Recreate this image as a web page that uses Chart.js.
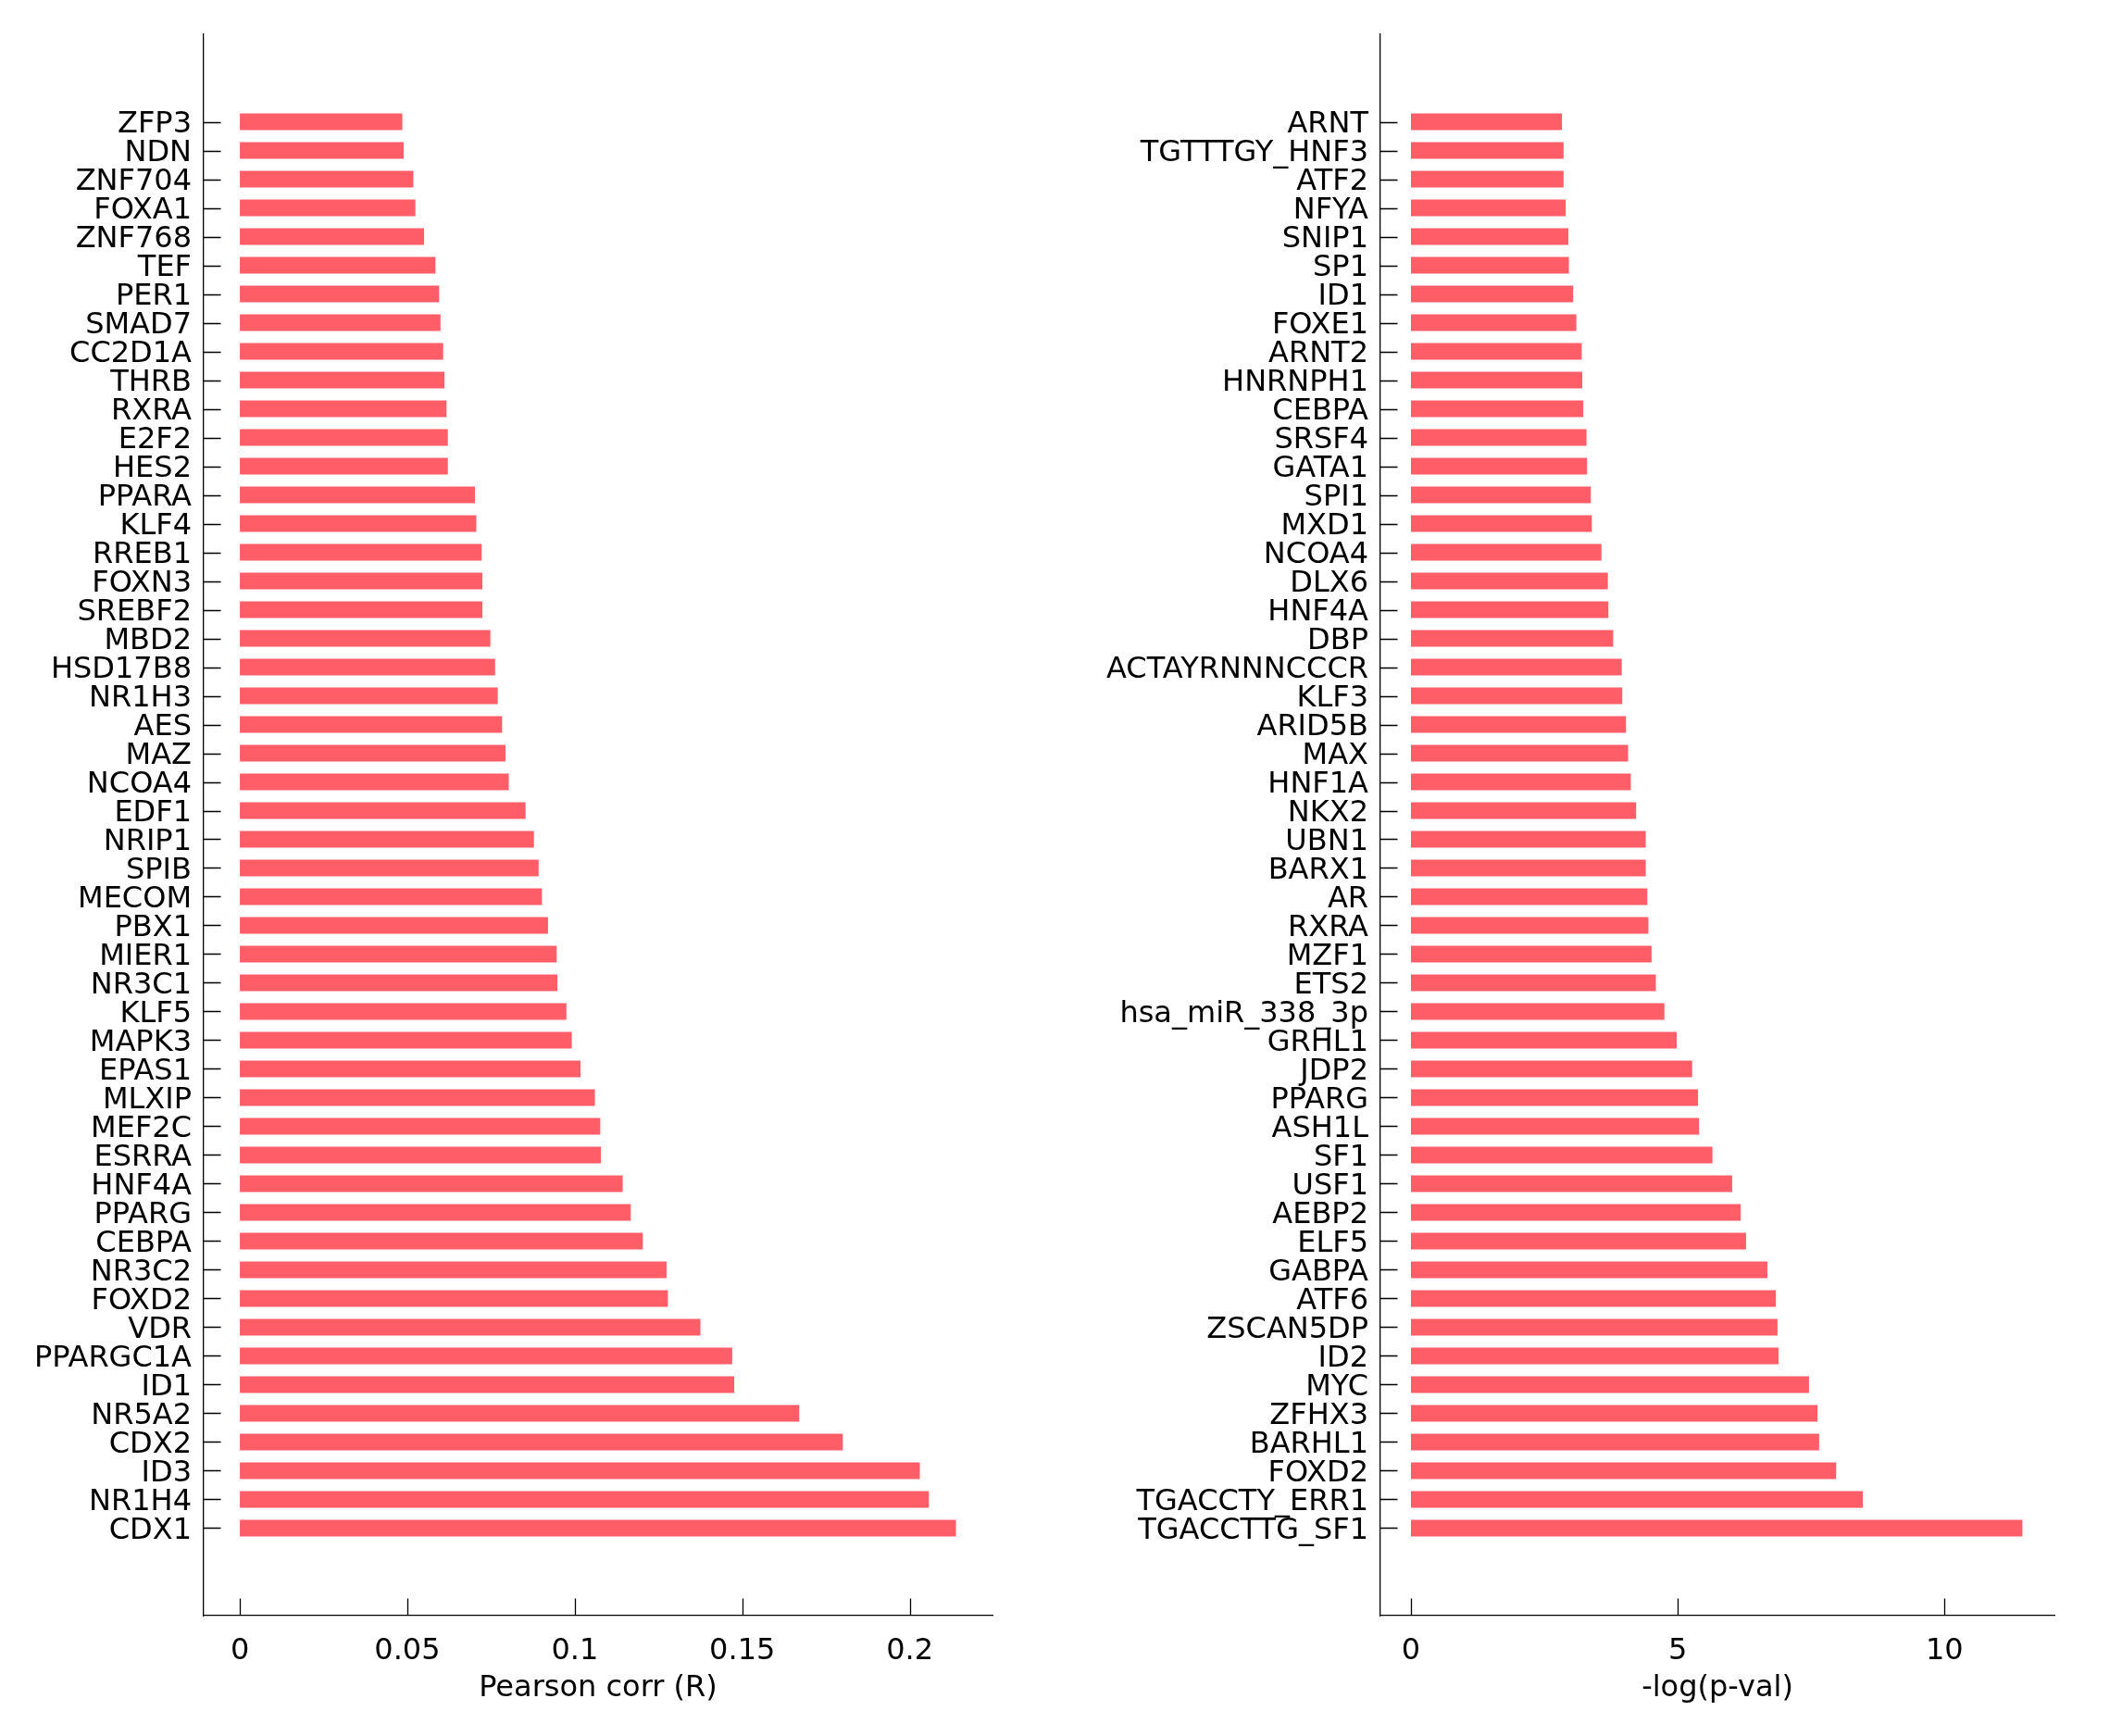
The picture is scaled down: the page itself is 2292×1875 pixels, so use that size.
<!DOCTYPE html>
<html>
<head>
<meta charset="utf-8">
<title>TF correlation and enrichment</title>
<script src="https://cdn.jsdelivr.net/npm/chart.js"></script>
<style>
  html, body { margin: 0; padding: 0; background: #fff; }
  #wrap { position: relative; width: 2292px; height: 1875px; }
  canvas { position: absolute; top: 0; }
  #corrChart { left: 0; }
  #pvalChart { left: 1146px; }
</style>
</head>
<body>
<div id="wrap">
  <canvas id="corrChart" width="1146" height="1875"></canvas>
  <canvas id="pvalChart" width="1146" height="1875"></canvas>
</div>
<script>
// left panel: Pearson correlation
const corrNames = [
  'ZFP3', 'NDN', 'ZNF704', 'FOXA1', 'ZNF768', 'TEF', 'PER1', 'SMAD7', 'CC2D1A', 'THRB',
  'RXRA', 'E2F2', 'HES2', 'PPARA', 'KLF4', 'RREB1', 'FOXN3', 'SREBF2', 'MBD2', 'HSD17B8',
  'NR1H3', 'AES', 'MAZ', 'NCOA4', 'EDF1', 'NRIP1', 'SPIB', 'MECOM', 'PBX1', 'MIER1',
  'NR3C1', 'KLF5', 'MAPK3', 'EPAS1', 'MLXIP', 'MEF2C', 'ESRRA', 'HNF4A', 'PPARG', 'CEBPA',
  'NR3C2', 'FOXD2', 'VDR', 'PPARGC1A', 'ID1', 'NR5A2', 'CDX2', 'ID3', 'NR1H4', 'CDX1'
];
const corrValues = [
  0.0485, 0.0489, 0.0518, 0.0524, 0.0550, 0.0584, 0.0595, 0.0599, 0.0607, 0.0611,
  0.0617, 0.0621, 0.0621, 0.0702, 0.0706, 0.0722, 0.0724, 0.0724, 0.0748, 0.0762,
  0.0770, 0.0783, 0.0793, 0.0803, 0.0853, 0.0878, 0.0892, 0.0902, 0.0920, 0.0946,
  0.0948, 0.0975, 0.0991, 0.1017, 0.1060, 0.1076, 0.1078, 0.1143, 0.1167, 0.1203,
  0.1274, 0.1278, 0.1375, 0.1470, 0.1476, 0.1670, 0.1800, 0.2030, 0.2057, 0.2138
];
const corrTicks = [0, 0.05, 0.1, 0.15, 0.2];

// right panel: -log(p-value)
const pvalNames = [
  'ARNT', 'TGTTTGY_HNF3', 'ATF2', 'NFYA', 'SNIP1', 'SP1', 'ID1', 'FOXE1', 'ARNT2', 'HNRNPH1',
  'CEBPA', 'SRSF4', 'GATA1', 'SPI1', 'MXD1', 'NCOA4', 'DLX6', 'HNF4A', 'DBP', 'ACTAYRNNNCCCR',
  'KLF3', 'ARID5B', 'MAX', 'HNF1A', 'NKX2', 'UBN1', 'BARX1', 'AR', 'RXRA', 'MZF1',
  'ETS2', 'hsa_miR_338_3p', 'GRHL1', 'JDP2', 'PPARG', 'ASH1L', 'SF1', 'USF1', 'AEBP2', 'ELF5',
  'GABPA', 'ATF6', 'ZSCAN5DP', 'ID2', 'MYC', 'ZFHX3', 'BARHL1', 'FOXD2', 'TGACCTY_ERR1', 'TGACCTTG_SF1'
];
const pvalValues = [
  2.83, 2.86, 2.86, 2.90, 2.95, 2.96, 3.04, 3.10, 3.20, 3.21,
  3.23, 3.29, 3.30, 3.37, 3.39, 3.57, 3.69, 3.70, 3.79, 3.95,
  3.96, 4.03, 4.07, 4.12, 4.22, 4.40, 4.40, 4.43, 4.45, 4.51,
  4.59, 4.75, 4.98, 5.27, 5.38, 5.40, 5.65, 6.02, 6.18, 6.28,
  6.68, 6.84, 6.87, 6.89, 7.46, 7.62, 7.65, 7.97, 8.47, 11.46
];
const pvalTicks = [0, 5, 10];

const FONT = 'DejaVu Sans';
const FONT_SIZE = 32;
const BAR_COLOR = '#ff5e69';

Chart.defaults.color = '#000';
Chart.defaults.font.family = FONT;

// tick marks pointing into the plot area
const innerTicks = {
  id: 'innerTicks',
  afterDraw(chart, args, opts) {
    const { ctx, chartArea, scales } = chart;
    ctx.save();
    ctx.strokeStyle = '#000';
    ctx.lineWidth = 1.3;
    ctx.beginPath();
    scales.y.ticks.forEach(t => {
      const y = Math.round(scales.y.getPixelForValue(t.value)) + 0.5;
      ctx.moveTo(chartArea.left, y);
      ctx.lineTo(chartArea.left + opts.length, y);
    });
    scales.x.ticks.forEach(t => {
      const x = Math.round(scales.x.getPixelForValue(t.value)) + 0.5;
      ctx.moveTo(x, chartArea.bottom);
      ctx.lineTo(x, chartArea.bottom - opts.length);
    });
    ctx.stroke();
    ctx.restore();
  }
};

function makePanel(id, names, values, ticks, xMin, xMax, title, axisLeft, rightPad) {
  new Chart(document.getElementById(id), {
    type: 'bar',
    data: {
      datasets: [{
        data: values.map((v, i) => ({ x: v, y: i })),
        backgroundColor: BAR_COLOR,
        borderWidth: 0,
        categoryPercentage: 1.0,
        barPercentage: 0.585
      }]
    },
    options: {
      indexAxis: 'y',
      responsive: false,
      devicePixelRatio: 1,
      animation: false,
      layout: { padding: { left: 0, right: rightPad, top: 37, bottom: 0 } },
      plugins: {
        legend: { display: false },
        tooltip: { enabled: false },
        innerTicks: { length: 18.5 }
      },
      scales: {
        x: {
          type: 'linear',
          min: xMin,
          max: xMax,
          offset: false,
          grid: { display: false, drawTicks: false },
          border: { display: true, color: '#000', width: 1.3 },
          afterBuildTicks: s => { s.ticks = ticks.map(v => ({ value: v })); },
          afterFit: s => { s.height = 1875 - 1745; },
          ticks: {
            autoSkip: false,
            padding: 19,
            font: { size: FONT_SIZE },
            callback: v => String(v)
          },
          title: {
            display: true,
            text: title,
            font: { size: FONT_SIZE },
            padding: { top: 0, bottom: 32 }
          }
        },
        y: {
          type: 'linear',
          reverse: true,
          min: -3.05,
          max: 52.05,
          offset: false,
          grid: { display: false, drawTicks: false, offset: false },
          border: { display: true, color: '#000', width: 1.3 },
          afterBuildTicks: s => { s.ticks = names.map((n, i) => ({ value: i })); },
          afterFit: s => { s.width = axisLeft; },
          ticks: {
            autoSkip: false,
            padding: 13,
            labelOffset: 3,
            font: { size: FONT_SIZE },
            callback: v => names[v]
          }
        }
      }
    },
    plugins: [innerTicks]
  });
}

makePanel('corrChart', corrNames, corrValues, corrTicks, -0.0108, 0.2247, 'Pearson corr (R)', 220, 1146 - 1072);
makePanel('pvalChart', pvalNames, pvalValues, pvalTicks, -0.573, 12.06, '-log(p-val)', 1491 - 1146, 2292 - 2219);
</script>
</body>
</html>
